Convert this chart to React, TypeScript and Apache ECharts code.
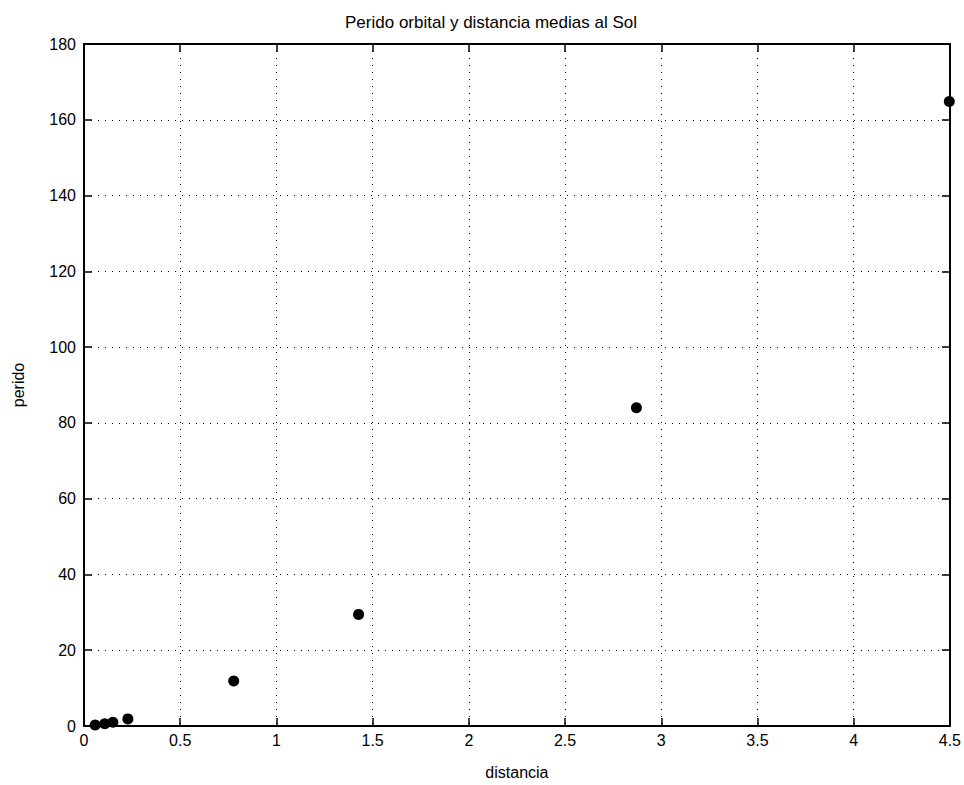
import React, { useEffect, useRef } from "react";
import * as echarts from "echarts";

const distancia = [0.058, 0.108, 0.15, 0.228, 0.778, 1.427, 2.871, 4.497];
const periodo = [0.24, 0.62, 1.0, 1.88, 11.86, 29.46, 84.01, 164.8];
const xTicks = [0, 0.5, 1, 1.5, 2, 2.5, 3, 3.5, 4, 4.5];
const yTicks = [0, 20, 40, 60, 80, 100, 120, 140, 160, 180];

const FONT = "'Liberation Sans Narrow', 'Liberation Sans', Arial, sans-serif";

export default function App() {
  const ref = useRef<HTMLDivElement>(null);
  useEffect(() => {
    const chart = echarts.init(ref.current!, null, { renderer: "svg" });
    const points = distancia.map((d, i) => [d, periodo[i]]);
    const axisLine = { show: true, onZero: false, lineStyle: { color: "#000", width: 2 } };
    const tick = { show: true, inside: true, length: 8, lineStyle: { color: "#000", width: 1.5 } };
    const split = { show: true, lineStyle: { color: "#000", type: [1, 6] as any, width: 1 } };
    chart.setOption({
      animation: false,
      backgroundColor: "#fff",
      title: {
        text: "Perido orbital y distancia medias al Sol",
        left: 486,
        textAlign: "center",
        top: 9,
        textStyle: { fontFamily: FONT, fontSize: 17, fontWeight: "normal", color: "#000" },
      },
      grid: { left: 84, right: 14, top: 44, bottom: 58, containLabel: false },
      xAxis: [
        {
          type: "value",
          min: 0,
          max: 4.5,
          interval: 0.5,
          position: "bottom",
          name: "distancia",
          nameLocation: "middle",
          nameGap: 38,
          nameTextStyle: { fontFamily: FONT, fontSize: 16, color: "#000" },
          axisLine,
          axisTick: tick,
          splitLine: split,
          axisLabel: {
            fontFamily: FONT,
            fontSize: 16,
            color: "#000",
            margin: 6,
            formatter: (v: number) => (xTicks.includes(v) ? String(v) : ""),
          },
        },
        {
          type: "value",
          min: 0,
          max: 4.5,
          interval: 0.5,
          position: "top",
          axisLine,
          axisTick: tick,
          splitLine: { show: false },
          axisLabel: { show: false },
        },
      ],
      yAxis: [
        {
          type: "value",
          min: 0,
          max: 180,
          interval: 20,
          position: "left",
          name: "perido",
          nameLocation: "middle",
          nameGap: 58,
          nameRotate: 90,
          nameTextStyle: { fontFamily: FONT, fontSize: 16, color: "#000" },
          axisLine,
          axisTick: tick,
          splitLine: split,
          axisLabel: {
            fontFamily: FONT,
            fontSize: 16,
            color: "#000",
            margin: 8,
            formatter: (v: number) => (yTicks.includes(v) ? String(v) : ""),
          },
        },
        {
          type: "value",
          min: 0,
          max: 180,
          interval: 20,
          position: "right",
          axisLine,
          axisTick: tick,
          splitLine: { show: false },
          axisLabel: { show: false },
        },
      ],
      series: [
        {
          type: "scatter",
          data: points,
          symbol: "circle",
          symbolSize: 11,
          itemStyle: { color: "#000", opacity: 1 },
          clip: false,
        },
      ],
    });
    return () => chart.dispose();
  }, []);
  return <div ref={ref} style={{ width: 964, height: 785, position: "absolute", left: 0, top: 0 }} />;
}
